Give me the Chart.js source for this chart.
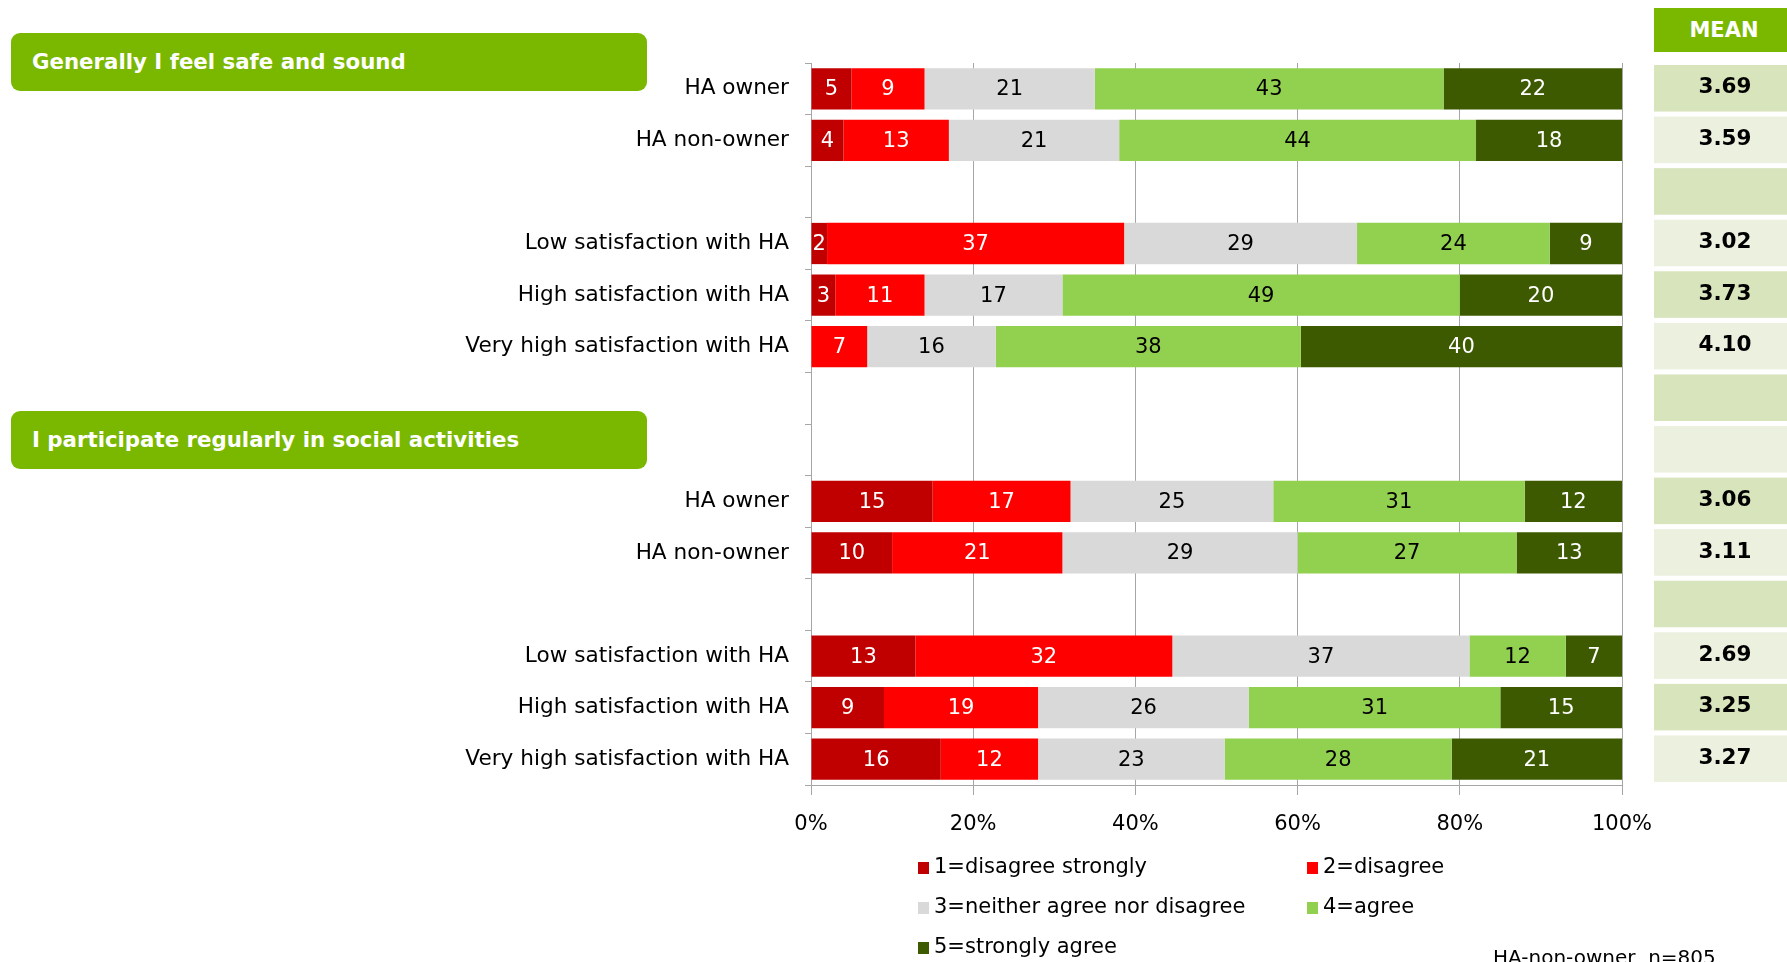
<!DOCTYPE html>
<html>
<head>
<meta charset="utf-8">
<script src="https://cdn.jsdelivr.net/npm/chart.js@4.4.1/dist/chart.umd.min.js"></script>
<style>
  html, body { margin: 0; padding: 0; width: 1787px; height: 962px; overflow: hidden; background: #fff; }
  body { font-family: "DejaVu Sans", Verdana, sans-serif; }
  #wrap { position: relative; width: 1787px; height: 962px; }
  #chart { position: absolute; left: 0; top: 0; }
  .section {
    position: absolute; left: 11px; width: 636px; height: 58px;
    background: #7AB800; border-radius: 9px; color: #fff;
    font-weight: bold; font-size: 21.3px; line-height: 58px;
    padding-left: 21px; box-sizing: border-box;
  }
  .mean-head {
    position: absolute; left: 1654px; top: 8px; width: 133px; height: 44px;
    background: #7AB800; color: #fff; font-weight: bold; font-size: 21px;
    line-height: 44px; text-align: center; padding-left: 7px; box-sizing: border-box;
  }
  .legend { position: absolute; left: 918px; top: 853px; font-size: 21px; color: #000; }
  .legend .item { position: absolute; white-space: nowrap; line-height: 26px; }
  .legend .sw { display: inline-block; width: 11px; height: 12px; margin-right: 5px; vertical-align: -1px; }
  .note { position: absolute; left: 1493px; top: 945px; font-size: 20px; color: #000; white-space: nowrap; }
</style>
</head>
<body>
<div id="wrap">
  <canvas id="chart" width="1787" height="962"></canvas>
  <div class="section" style="top:33px">Generally I feel safe and sound</div>
  <div class="section" style="top:411px">I participate regularly in social activities</div>
  <div class="mean-head">MEAN</div>
  <div class="legend" id="legend"></div>
  <div class="note">HA-non-owner&nbsp; n=805</div>
</div>
<script>
const categories = [
  "HA owner", "HA non-owner", "",
  "Low satisfaction with HA", "High satisfaction with HA", "Very high satisfaction with HA",
  "", "",
  "HA owner", "HA non-owner", "",
  "Low satisfaction with HA", "High satisfaction with HA", "Very high satisfaction with HA"
];
const seriesNames = ["1=disagree strongly", "2=disagree", "3=neither agree nor disagree", "4=agree", "5=strongly agree"];
const seriesColors = ["#C00000", "#FF0000", "#D9D9D9", "#92D050", "#3D5A00"];
const labelColors = ["#fff", "#fff", "#000", "#000", "#fff"];

const disagreeStrongly = [5, 4, null, 2, 3, null, null, null, 15, 10, null, 13, 9, 16];
const disagree         = [9, 13, null, 37, 11, 7, null, null, 17, 21, null, 32, 19, 12];
const neither          = [21, 21, null, 29, 17, 16, null, null, 25, 29, null, 37, 26, 23];
const agree            = [43, 44, null, 24, 49, 38, null, null, 31, 27, null, 12, 31, 28];
const stronglyAgree    = [22, 18, null, 9, 20, 40, null, null, 12, 13, null, 7, 15, 21];
const means = ["3.69", "3.59", "", "3.02", "3.73", "4.10", "", "", "3.06", "3.11", "", "2.69", "3.25", "3.27"];
const xTicks = [0, 20, 40, 60, 80, 100];

const series = [disagreeStrongly, disagree, neither, agree, stronglyAgree];
const FONT = '"DejaVu Sans", Verdana, sans-serif';

// rows are 100% stacked, so scale each row to its own total
const rowTotals = categories.map((c, i) => series.reduce((s, arr) => s + (arr[i] || 0), 0));

const datasets = series.map((arr, d) => ({
  label: seriesNames[d],
  data: arr.map((v, i) => (v == null ? null : v / rowTotals[i] * 100)),
  backgroundColor: seriesColors[d],
  borderWidth: 0,
  barPercentage: 0.8,
  categoryPercentage: 1
}));

const barLabels = {
  id: "barLabels",
  afterDatasetsDraw(chart) {
    const ctx = chart.ctx;
    ctx.save();
    ctx.font = "21px " + FONT;
    ctx.textAlign = "center";
    ctx.textBaseline = "middle";
    chart.data.datasets.forEach((ds, d) => {
      chart.getDatasetMeta(d).data.forEach((el, i) => {
        const raw = series[d][i];
        if (raw == null) return;
        const p = el.getCenterPoint();
        ctx.fillStyle = labelColors[d];
        ctx.fillText(String(raw), p.x, p.y + 1);
      });
    });
    ctx.restore();
  }
};

const meanColumn = {
  id: "meanColumn",
  afterDraw(chart) {
    const ctx = chart.ctx;
    const y = chart.scales.y;
    const band = y.getPixelForValue(1) - y.getPixelForValue(0);
    const left = chart.chartArea.right + 32;
    ctx.save();
    ctx.font = "bold 21.5px " + FONT;
    ctx.textAlign = "center";
    ctx.textBaseline = "middle";
    means.forEach((m, i) => {
      const c = y.getPixelForValue(i);
      ctx.fillStyle = i % 2 === 0 ? "#D8E4BC" : "#EBF1DE";
      ctx.fillRect(left, c - band / 2 + 2, chart.width - left, band - 5);
      if (m) {
        ctx.fillStyle = "#000";
        ctx.fillText(m, left + 71, c - 1);
      }
    });
    ctx.restore();
  }
};

new Chart(document.getElementById("chart"), {
  type: "bar",
  data: { labels: categories, datasets },
  options: {
    indexAxis: "y",
    responsive: false,
    animation: false,
    layout: { padding: { left: 0, top: 63, right: 165, bottom: 117 } },
    plugins: { legend: { display: false }, tooltip: { enabled: false } },
    scales: {
      x: {
        stacked: true,
        min: 0,
        max: 100,
        afterBuildTicks: s => { s.ticks = xTicks.map(v => ({ value: v })); },
        afterFit: s => { s.height = 60; },
        ticks: { callback: v => v + "%", color: "#000", font: { family: FONT, size: 21 }, padding: 17, maxRotation: 0 },
        grid: { color: "#A6A6A6", lineWidth: 1, tickLength: 10 },
        border: { color: "#A6A6A6" }
      },
      y: {
        stacked: true,
        afterFit: s => { s.width = 811; },
        ticks: { color: "#000", font: { family: FONT, size: 21.6 }, padding: 16, autoSkip: false },
        grid: { drawOnChartArea: false, color: "#A6A6A6", tickLength: 6 },
        border: { color: "#A6A6A6" }
      }
    }
  },
  plugins: [barLabels, meanColumn]
});

// legend in two columns
const legendPos = [[0, 0], [389, 0], [0, 40], [389, 40], [0, 80]];
const legendEl = document.getElementById("legend");
seriesNames.forEach((name, d) => {
  const item = document.createElement("div");
  item.className = "item";
  item.style.left = legendPos[d][0] + "px";
  item.style.top = legendPos[d][1] + "px";
  item.innerHTML = '<span class="sw" style="background:' + seriesColors[d] + '"></span>' + name;
  legendEl.appendChild(item);
});
</script>
</body>
</html>
